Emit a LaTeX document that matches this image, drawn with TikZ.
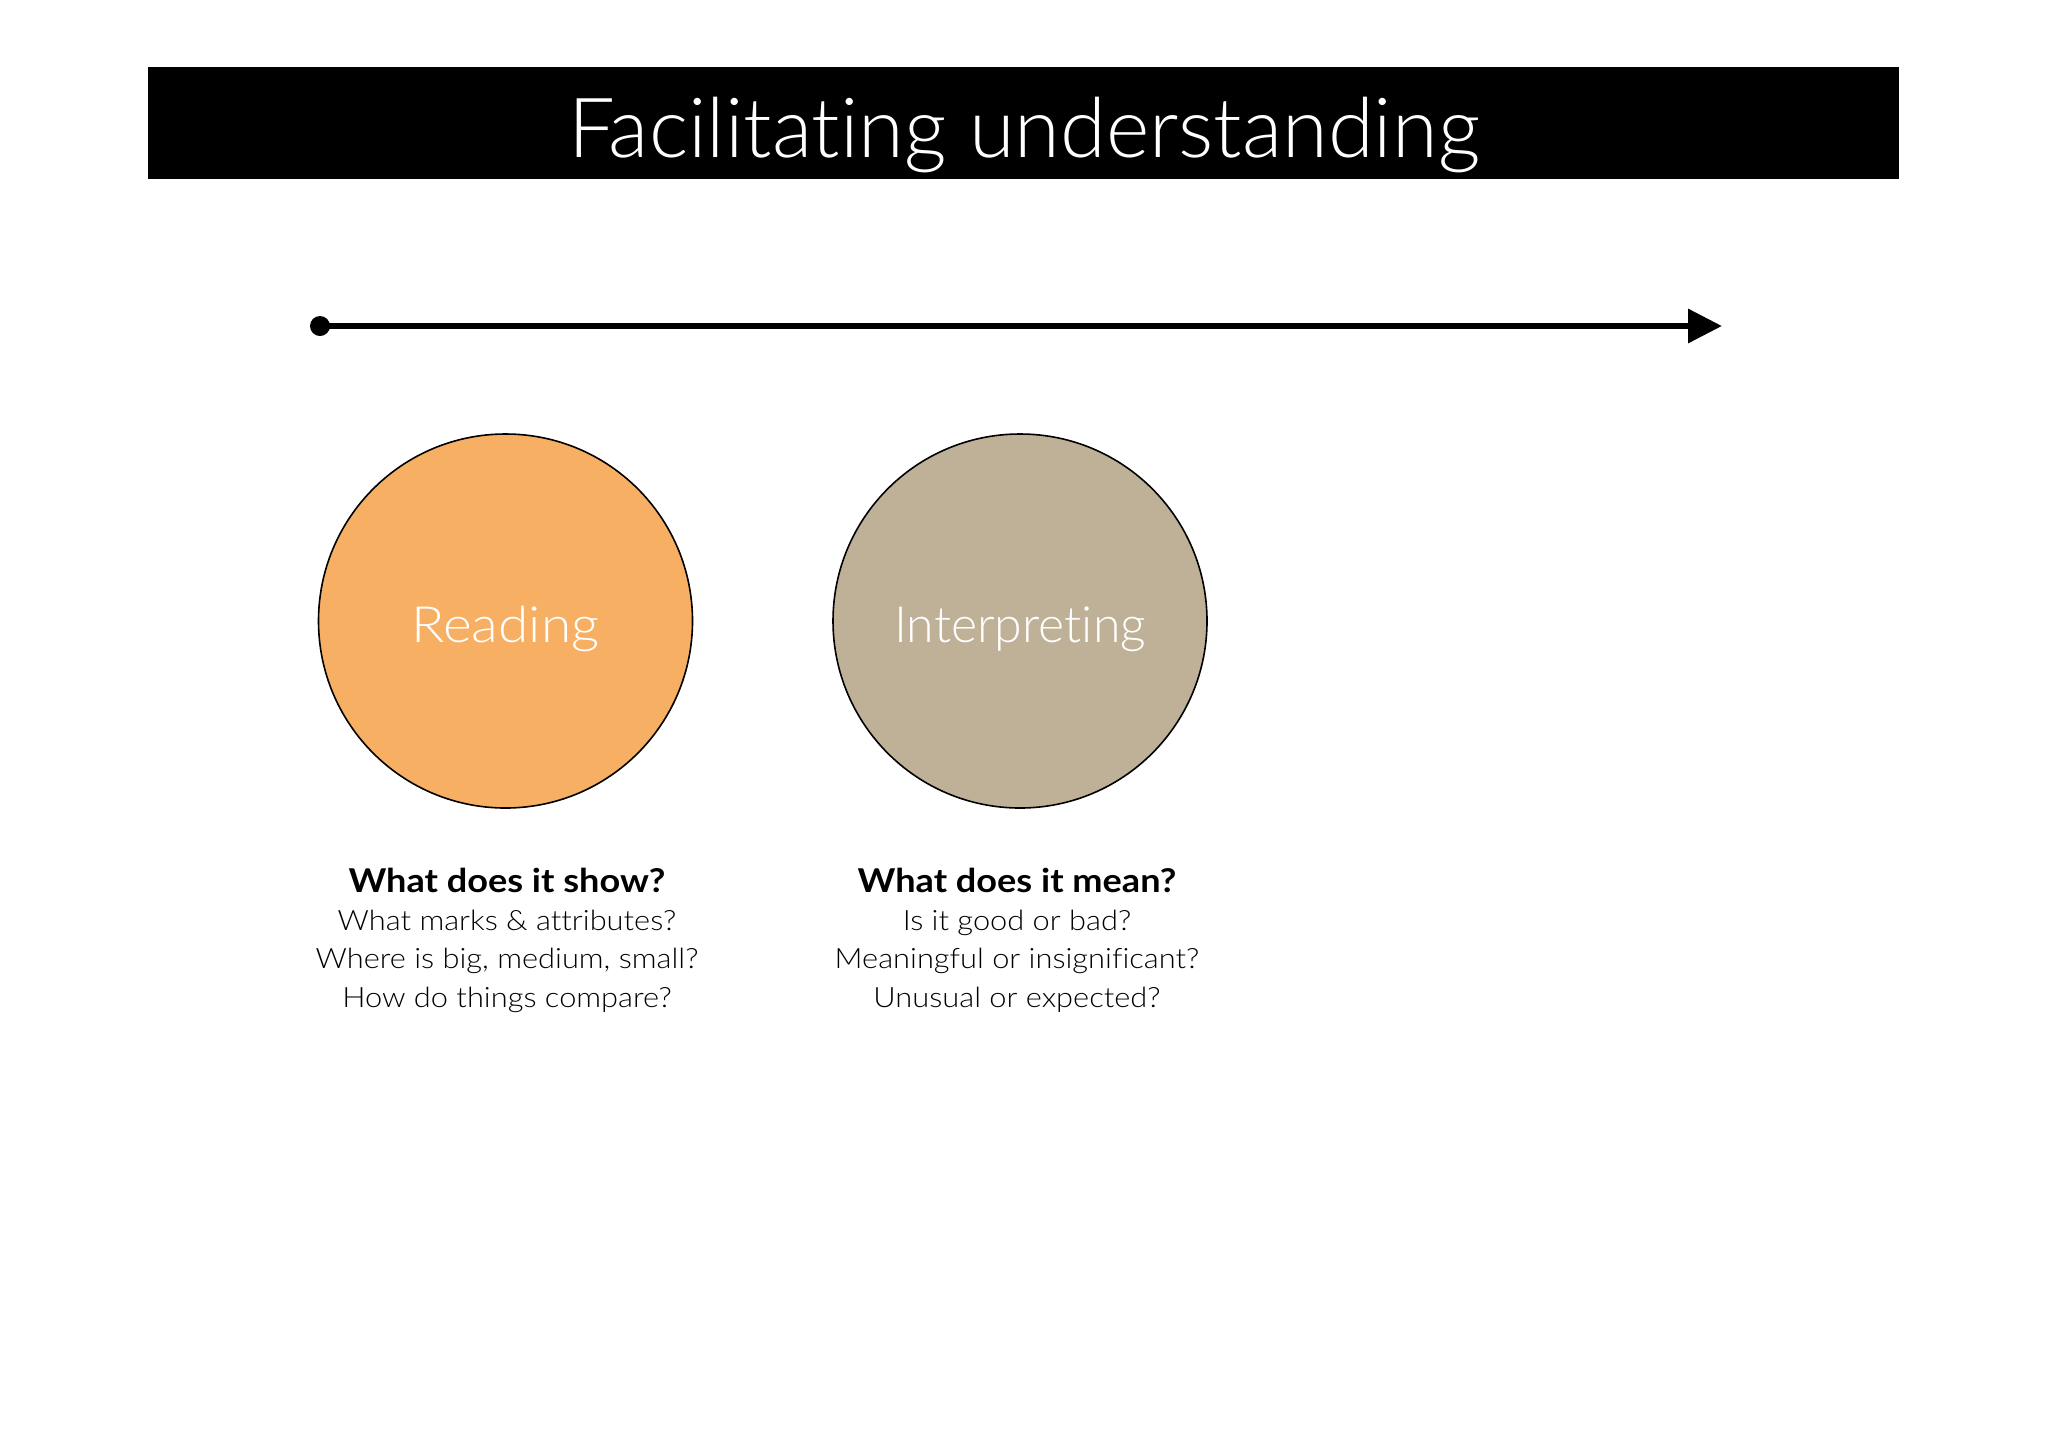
\documentclass[tikz,border=0pt]{standalone}
\usepackage{fontspec}
\setmainfont{Lato Light}[BoldFont=Lato Bold,Ligatures=NoCommon]
\newfontfamily\widefont{Lato Light}[BoldFont=Lato Bold,Ligatures=NoCommon,FakeStretch=1.1]
\usetikzlibrary{arrows.meta}
\definecolor{readorange}{RGB}{247,175,99}
\definecolor{interpbeige}{RGB}{191,177,152}
\begin{document}
\begin{tikzpicture}[x=0.5pt,y=-0.5pt,
  bubble/.style={circle,draw=black,line width=0.8pt,minimum size=187pt,inner sep=0pt,text=white,text height=21pt,text depth=0pt,font=\widefont\fontsize{25}{28}\selectfont},
  qhead/.style={anchor=base,font=\widefont\bfseries\fontsize{16.4}{19}\selectfont},
  qline/.style={anchor=base,font=\widefont\fontsize{14}{16}\selectfont}]
\useasboundingbox (0,0) rectangle (2048,1447);
\fill[white] (0,0) rectangle (2048,1447);
% title bar
\node[fill=black,minimum width=875.5pt,minimum height=56pt,inner sep=0pt] (bar) at (1023.5,122.5) {};
\node[anchor=base,text=white,font=\fontsize{41.5}{48}\selectfont] (title) at (1024,157) {Facilitating understanding};
% timeline arrow
\node[circle,fill=black,inner sep=0pt,minimum size=10pt] (s) at (320,326) {};
\coordinate (e) at (1722,326);
\draw[line width=3.2pt,-{Triangle[length=17pt,width=16.5pt]}] (s.center) -- (e);
% circles
\node[bubble,fill=readorange] (read) at (505.5,621) {Reading};
\node[bubble,fill=interpbeige,font=\fontsize{25}{28}\selectfont] (interp) at (1020,621) {Interpreting};
% texts
\node[qhead] (h1) at (507,892) {What does it show?};
\node[qline] (a1) at (507,930) {What marks \& attributes?};
\node[qline] (a2) at (507,968) {Where is big, medium, small?};
\node[qline] (a3) at (507,1007) {How do things compare?};
\node[qhead] (h2) at (1017,892) {What does it mean?};
\node[qline] (b1) at (1017,930) {Is it good or bad?};
\node[qline] (b2) at (1017,968) {Meaningful or insignificant?};
\node[qline] (b3) at (1017,1007) {Unusual or expected?};
\end{tikzpicture}
\end{document}
